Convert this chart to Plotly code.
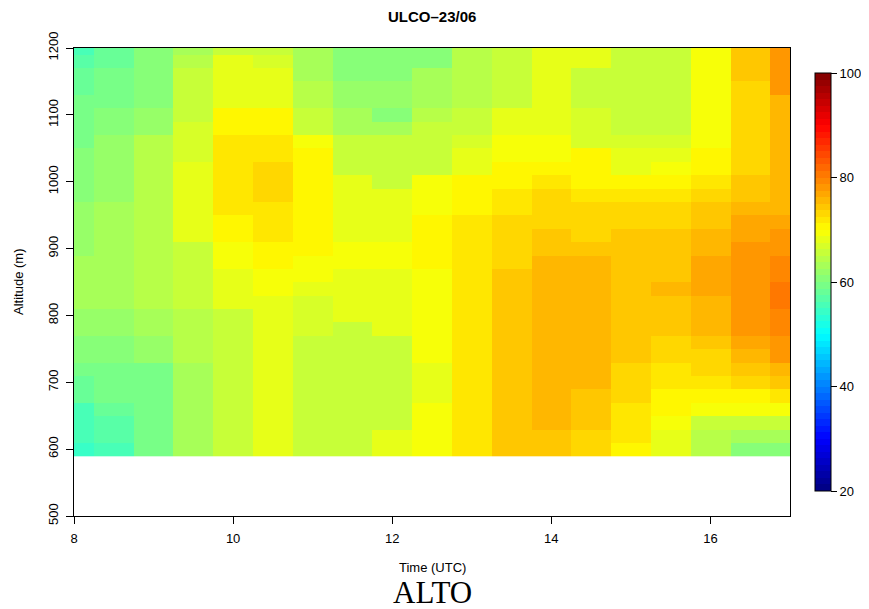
import plotly.graph_objects as go
import numpy as np

# Time (UTC) column centres and altitude (m) row centres
times = [8.0, 8.5, 9.0, 9.5, 10.0, 10.5, 11.0, 11.5, 12.0, 12.5, 13.0,
         13.5, 14.0, 14.5, 15.0, 15.5, 16.0, 16.5, 17.0]
altitudes = list(range(600, 1201, 20))

# one list per time column, values from bottom (600 m) to top (1200 m)
c0800 = [53.8, 55, 55, 56, 57.5, 57.5, 59, 60, 61, 62, 62, 63, 63, 63, 63, 62, 62, 62, 62,
         60.7, 60.7, 60.7, 60.7, 59.5, 59.5, 59, 58.8, 58.3, 57.5, 56.5, 55]
c0830 = [56, 57, 57, 57.5, 59, 59, 59.5, 60.7, 60.7, 62, 62, 63, 63, 63, 63, 63, 63, 63, 62.5,
         62, 62, 62, 62, 62, 60, 60, 59.5, 59.5, 59, 58, 57.5]
c0900 = [59, 59, 59.5, 59.5, 59.5, 59.5, 59.5, 62, 62, 62.5, 62.5, 64.5, 64.5, 64.5, 64.5, 64.5,
         64.5, 64.5, 64, 64, 64, 64, 64, 64, 62, 62, 60.7, 60.7, 60.7, 60, 60]
c0930 = [62.5, 62.5, 63, 63, 63, 63, 63, 64.5, 64.5, 64.5, 64.5, 65.5, 65.5, 65.5, 65.5, 65.5,
         67.5, 67.5, 67.5, 67.5, 67.5, 68.5, 67, 67, 67, 66, 66, 65, 65, 64, 63]
c1000 = [66, 66, 66, 66, 66, 66, 66, 66, 66, 66, 66, 67.5, 67.5, 67.5, 69, 69, 70, 70,
         71.8, 71.8, 71.8, 71.8, 71.8, 71.8, 70, 70, 68.5, 68.5, 68, 68, 66]
c1030 = [67.5, 67.5, 67.5, 67.5, 67.5, 67.5, 67.5, 67.5, 67.5, 67.5, 67.5, 67.5, 69.3, 69.3,
         70, 70, 71.8, 71.8, 71.8, 72.7, 72.7, 72.7, 72, 72, 70, 70, 68.5, 68, 68, 67, 66]
c1100 = [66, 66, 66, 66, 66, 66, 66, 66, 66, 67, 67, 67, 68, 69, 69.3, 70, 70, 70, 70, 70,
         70, 70, 70, 69, 66, 65, 64.5, 64, 62.5, 62.5, 62.5]
c1130 = [66, 66, 66, 66, 66, 66, 66, 66, 66, 66, 67.5, 67.5, 67.5, 67.5, 69, 69, 68, 68, 68,
         68, 68, 65.5, 65.5, 65, 63, 63, 62, 62, 60.8, 60.8, 61]
c1200 = [68, 68, 66, 66, 66, 66, 66, 66, 66, 67.5, 67.5, 67.5, 67.5, 67.5, 69, 69, 68, 68,
         68, 68, 66, 65.5, 65.5, 65, 62.5, 61, 62, 62, 61, 60, 60]
c1230 = [69, 69, 69, 69, 67.5, 67.5, 67.5, 69, 69, 69, 69, 69, 69, 69, 70, 70, 70, 70, 69,
         69, 69, 66, 66, 65.5, 65, 64, 62.5, 62.5, 62.5, 61, 61]
c1300 = [71.8, 71.8, 71.8, 71.8, 71.8, 71.8, 71.8, 71.8, 71.8, 71.8, 71.8, 71.8, 71.8, 71.8,
         71.8, 71.8, 71.8, 71.8, 70, 70, 70, 68, 68, 67, 66, 65, 64, 64, 64, 64, 64]
c1330 = [73.8, 73.8, 73.8, 73.8, 73.8, 73.8, 73.8, 73.8, 73.8, 73.8, 73.8, 73.8, 73.8, 73.8,
         72.5, 72.5, 73, 73, 72, 72, 70, 70, 69, 69, 68, 68, 66, 66, 66, 66, 66]
c1400 = [74, 74, 75.5, 75.5, 75.5, 75.5, 75.5, 75.5, 75.5, 75.5, 75.5, 75.5, 75.5, 75.5, 75.5,
         73.8, 73.8, 73, 73, 72.5, 72, 70, 69.5, 69, 68, 68, 68, 68, 68, 68, 68]
c1430 = [73, 73, 74.5, 74.5, 74.5, 75.5, 75.5, 75.5, 75.5, 75.5, 75.5, 75.5, 75.5, 75.5, 75.5,
         73.8, 73, 73, 73, 72, 70, 70, 70, 67, 67, 67, 66, 66, 66, 68, 68]
c1500 = [70, 72, 72, 72, 73, 73, 73, 74.5, 74.5, 74.5, 74.5, 74.5, 74.5, 74.5, 74.5, 74,
         73.8, 73, 73, 72, 70, 68, 68, 67, 66, 66, 66, 66, 66, 66, 66]
c1530 = [67.5, 67.5, 69, 70, 70, 72, 72, 73, 73, 74, 74, 74, 75.5, 74, 74, 74, 73.8, 73, 73,
         72, 70, 69, 68, 67, 66, 66, 66, 66, 66, 66, 66]
c1600 = [64, 64, 66, 69, 70, 72, 73, 73, 74, 75.5, 75.5, 75.5, 76.7, 76.7, 76.7, 75.5, 75, 74,
         73.8, 73.5, 72, 70, 70, 69, 69, 69, 69, 69, 69, 69, 69]
c1630 = [60.7, 63, 65.5, 69, 70, 73, 73.8, 75, 76.7, 77.5, 77.5, 77.5, 77.5, 77.5, 77.5, 77.5,
         76.7, 76.7, 75, 73.8, 73.8, 72.7, 72.7, 72.7, 72.7, 72.7, 72.7, 72.7, 74, 74, 74]
c1700 = [60, 62.5, 65.5, 69, 72, 74, 75.5, 77.5, 77.5, 78.8, 78.8, 80, 80, 78.8, 78.8, 77.5,
         78, 77, 76, 75.3, 75.3, 75.5, 75.5, 75.5, 75.5, 75.5, 76, 77.5, 77.5, 77.5, 77.5]

columns = [c0800, c0830, c0900, c0930, c1000, c1030, c1100, c1130, c1200, c1230, c1300,
           c1330, c1400, c1430, c1500, c1530, c1600, c1630, c1700]
z = np.array(columns).T  # rows = altitudes, cols = times

x_ticks = [8, 10, 12, 14, 16]
y_ticks = [500, 600, 700, 800, 900, 1000, 1100, 1200]
cbar_ticks = [20, 40, 60, 80, 100]


def jet(t):
    r = min(max(1.5 - abs(4 * t - 3), 0), 1)
    g = min(max(1.5 - abs(4 * t - 2), 0), 1)
    b = min(max(1.5 - abs(4 * t - 1), 0), 1)
    return f"rgb({int(round(r*255))},{int(round(g*255))},{int(round(b*255))})"


N = 64
colorscale = []
for k in range(N):
    c = jet((k + 0.5) / N)
    colorscale.append([k / N, c])
    colorscale.append([(k + 1) / N, c])

FONT = "Liberation Sans, Arial, Helvetica, sans-serif"

# figure is drawn inside the page's 8px body margin
W, H = 861, 601
L, T, R, B = 66, 40, 79, 93
PW, PH = W - L - R, H - T - B

fig = go.Figure(go.Heatmap(
    x=times, y=altitudes, z=z,
    zmin=20, zmax=100, colorscale=colorscale,
    colorbar=dict(
        x=(807 - L) / PW, xanchor="left", xpad=0,
        y=0.5, yanchor="middle", ypad=0,
        lenmode="pixels", len=418,
        thicknessmode="pixels", thickness=16,
        outlinecolor="black", outlinewidth=1,
        tickvals=cbar_ticks, ticks="outside", ticklen=6, tickcolor="black",
        tickfont=dict(family=FONT, size=13, color="black"),
    ),
    hoverinfo="x+y+z",
))

fig.update_layout(
    width=W, height=H,
    margin=dict(l=L, r=R, t=T, b=B, autoexpand=False),
    paper_bgcolor="white", plot_bgcolor="white",
    font=dict(family=FONT, color="black"),
    xaxis=dict(range=[8, 17], tickvals=x_ticks, showgrid=False, zeroline=False,
               showline=True, linecolor="black", linewidth=1, mirror=True,
               ticks="outside", ticklen=7, tickcolor="black", ticklabelstandoff=3,
               automargin=False,
               tickfont=dict(family=FONT, size=13, color="black")),
    yaxis=dict(range=[500, 1200], tickvals=y_ticks, showgrid=False, zeroline=False,
               showline=True, linecolor="black", linewidth=1, mirror=True,
               ticks="outside", ticklen=7, tickcolor="black", tickangle=-90,
               ticklabelstandoff=3, automargin=False,
               tickfont=dict(family=FONT, size=13, color="black")),
    annotations=[
        dict(text="<b>ULCO\u201323/06</b>", x=0.5, y=1 + (T - 8) / PH,
             xref="paper", yref="paper", xanchor="center", yanchor="middle",
             showarrow=False, font=dict(family=FONT, size=15, color="black")),
        dict(text="Time (UTC)", x=0.5, y=-(559 - (T + PH)) / PH,
             xref="paper", yref="paper", xanchor="center", yanchor="middle",
             showarrow=False, font=dict(family=FONT, size=13, color="black")),
        dict(text="ALTO", x=0.5, y=-(584 - (T + PH)) / PH,
             xref="paper", yref="paper", xanchor="center", yanchor="middle",
             showarrow=False, font=dict(family="Liberation Serif, Times New Roman, serif",
                                        size=31, color="black")),
        dict(text="Altitude (m)", x=(10 - L) / PW, y=0.5,
             xref="paper", yref="paper", xanchor="center", yanchor="middle",
             textangle=-90, showarrow=False,
             font=dict(family=FONT, size=13, color="black")),
    ],
)

fig.write_html("out.html")
